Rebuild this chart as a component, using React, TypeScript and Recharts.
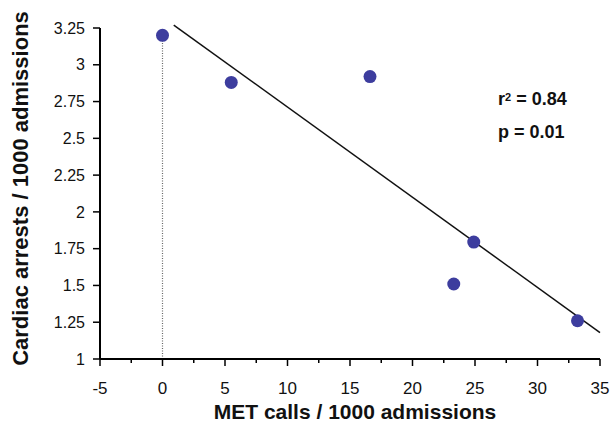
import React from "react";
import { ScatterChart, Scatter, XAxis, YAxis, ReferenceLine, Label } from "recharts";

const metCalls = [0, 5.5, 16.6, 23.3, 24.9, 33.2];
const arrests = [3.2, 2.88, 2.92, 1.51, 1.795, 1.26];
const xTicks = [-5, -2.5, 0, 2.5, 5, 7.5, 10, 12.5, 15, 17.5, 20, 22.5, 25, 27.5, 30, 32.5, 35];
const yTicks = [1, 1.25, 1.5, 1.75, 2, 2.25, 2.5, 2.75, 3, 3.25];
const fitStart = { x: 0.9, y: 3.27 };
const fitEnd = { x: 35, y: 1.18 };
const r2Text = "0.84";
const pText = "0.01";

const points = metCalls.map((x, i) => ({ x, y: arrests[i] }));

const FONT = "'Liberation Sans', Arial, Helvetica, sans-serif";

const XTick = (props: any) => {
  const { x, y, payload } = props;
  const v = payload.value;
  const major = v % 5 === 0;
  return (
    <g>
      <line x1={x} x2={x} y1={y} y2={y + (major ? 7 : 4)} stroke="#000" strokeWidth={1.5} />
      {major && (
        <text x={x} y={y + 35} textAnchor="middle" fontSize={17} fill="#111" fontFamily={FONT}>
          {v}
        </text>
      )}
    </g>
  );
};

const Dot = (props: any) => <circle cx={props.cx} cy={props.cy} r={6.5} fill="#3d3d9e" />;

const XLabel = (props: any) => {
  const vb = props.viewBox;
  return (
    <text x={vb.x + vb.width / 2 + 5} y={419} textAnchor="middle" fontSize={21} fontWeight="bold" fill="#111" fontFamily={FONT}>
      MET calls / 1000 admissions
    </text>
  );
};

const YLabel = (props: any) => {
  const vb = props.viewBox;
  const cx = 28;
  const cy = vb.y + vb.height / 2 - 5;
  return (
    <text x={cx} y={cy} transform={`rotate(-90 ${cx} ${cy})`} textAnchor="middle" fontSize={22} fontWeight="bold" fill="#111" fontFamily={FONT}>
      Cardiac arrests / 1000 admissions
    </text>
  );
};

export default function App() {
  return (
    <div style={{ position: "absolute", left: 0, top: 0, width: 613, height: 425, background: "#fff", fontFamily: FONT }}>
      <ScatterChart width={613} height={425} margin={{ top: 28, right: 13, bottom: 0, left: 0 }}>
        <XAxis
          type="number"
          dataKey="x"
          domain={[-5, 35]}
          ticks={xTicks}
          interval={0}
          height={66}
          tickSize={0}
          tickMargin={0}
          tickLine={false}
          tick={<XTick />}
          axisLine={{ stroke: "#000", strokeWidth: 2 }}
          label={<Label content={<XLabel />} />}
        />
        <YAxis
          type="number"
          dataKey="y"
          domain={[1, 3.25]}
          ticks={yTicks}
          interval={0}
          width={100}
          tickSize={7}
          tickMargin={8}
          tickLine={{ stroke: "#000", strokeWidth: 1.5 }}
          axisLine={{ stroke: "#000", strokeWidth: 2 }}
          tick={{ fontSize: 16, fill: "#111", fontFamily: FONT }}
          label={<Label content={<YLabel />} />}
        />
        <ReferenceLine
          segment={[{ x: 0, y: 1 }, { x: 0, y: arrests[0] }]}
          stroke="#666"
          strokeWidth={1.2}
          strokeDasharray="1 1.5"
        />
        <ReferenceLine
          segment={[fitStart, fitEnd]}
          ifOverflow="visible"
          stroke="#111"
          strokeWidth={1.5}
        />
        <Scatter data={points} shape={<Dot />} isAnimationActive={false} />
      </ScatterChart>
      <div style={{ position: "absolute", left: 498, top: 90, fontSize: 18, fontWeight: "bold", lineHeight: "18px", color: "#111", whiteSpace: "nowrap" }}>
        r<sup style={{ fontSize: 11, verticalAlign: "top", position: "relative", top: -2 }}>2</sup> = {r2Text}
      </div>
      <div style={{ position: "absolute", left: 498, top: 123, fontSize: 18, fontWeight: "bold", lineHeight: "18px", color: "#111", whiteSpace: "nowrap" }}>
        p = {pText}
      </div>
    </div>
  );
}
